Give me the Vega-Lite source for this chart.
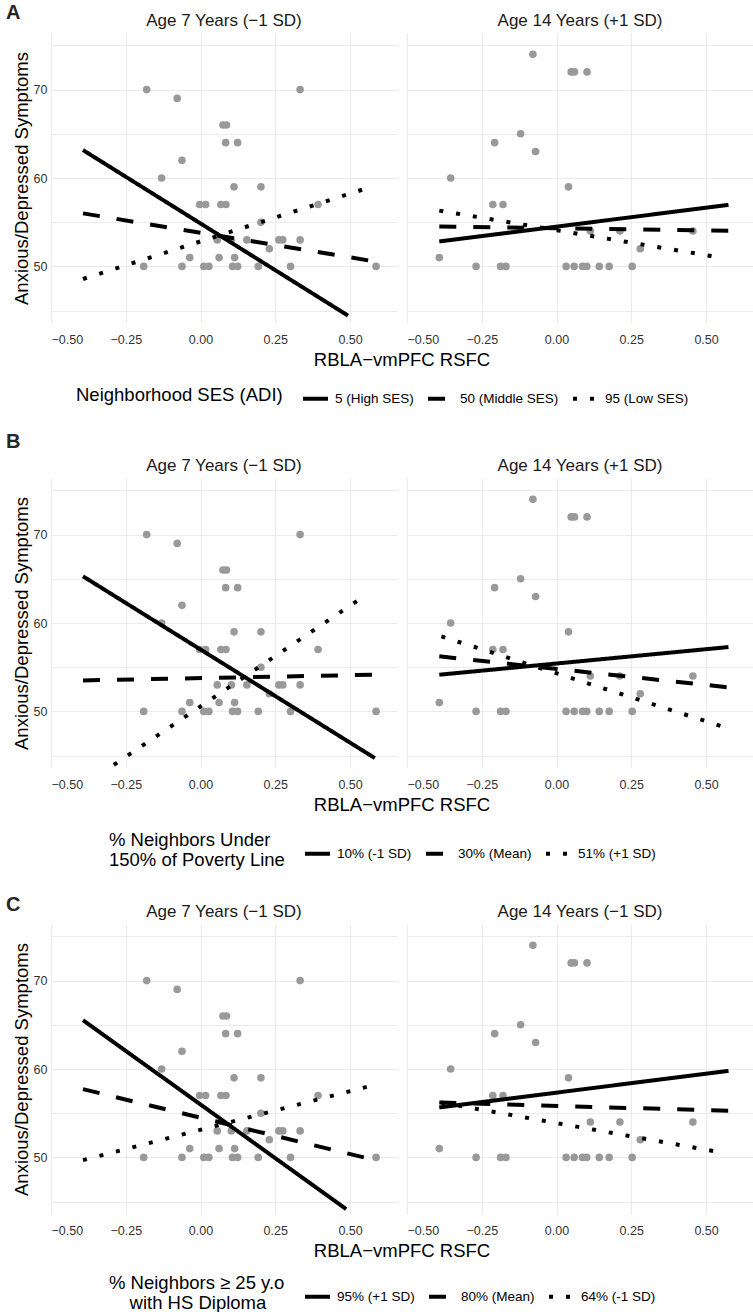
{
  "$schema": "https://vega.github.io/schema/vega-lite/v6.json",
  "padding": {"left": 6, "top": 3, "right": 0, "bottom": 0},
  "background": "white",
  "spacing": 25,
  "resolve": {"scale": {"strokeDash": "independent", "x": "independent", "y": "independent"}, "legend": {"strokeDash": "independent"}},
  "vconcat": [
    {
      "title": {"text": "A", "offset": -11, "dx": -6},
      "data": {"values": [
        {"age":"7","kind":"pt","x":-0.180,"y":70},{"age":"7","kind":"pt","x":0.333,"y":70},{"age":"7","kind":"pt","x":-0.078,"y":69},{"age":"7","kind":"pt","x":0.075,"y":66},{"age":"7","kind":"pt","x":0.087,"y":66},{"age":"7","kind":"pt","x":0.084,"y":64},{"age":"7","kind":"pt","x":0.124,"y":64},{"age":"7","kind":"pt","x":-0.062,"y":62},{"age":"7","kind":"pt","x":-0.130,"y":60},{"age":"7","kind":"pt","x":0.112,"y":59},{"age":"7","kind":"pt","x":0.202,"y":59},{"age":"7","kind":"pt","x":-0.003,"y":57},{"age":"7","kind":"pt","x":0.017,"y":57},{"age":"7","kind":"pt","x":0.068,"y":57},{"age":"7","kind":"pt","x":0.085,"y":57},{"age":"7","kind":"pt","x":0.393,"y":57},{"age":"7","kind":"pt","x":0.202,"y":55},{"age":"7","kind":"pt","x":0.056,"y":53},{"age":"7","kind":"pt","x":0.103,"y":53},{"age":"7","kind":"pt","x":0.155,"y":53},{"age":"7","kind":"pt","x":0.262,"y":53},{"age":"7","kind":"pt","x":0.275,"y":53},{"age":"7","kind":"pt","x":0.333,"y":53},{"age":"7","kind":"pt","x":0.230,"y":52},{"age":"7","kind":"pt","x":-0.036,"y":51},{"age":"7","kind":"pt","x":0.062,"y":51},{"age":"7","kind":"pt","x":0.114,"y":51},{"age":"7","kind":"pt","x":-0.190,"y":50},{"age":"7","kind":"pt","x":-0.062,"y":50},{"age":"7","kind":"pt","x":0.011,"y":50},{"age":"7","kind":"pt","x":0.028,"y":50},{"age":"7","kind":"pt","x":0.107,"y":50},{"age":"7","kind":"pt","x":0.124,"y":50},{"age":"7","kind":"pt","x":0.193,"y":50},{"age":"7","kind":"pt","x":0.301,"y":50},{"age":"7","kind":"pt","x":0.587,"y":50},
        {"age":"14","kind":"pt","x":-0.079,"y":74},{"age":"14","kind":"pt","x":0.049,"y":72},{"age":"14","kind":"pt","x":0.060,"y":72},{"age":"14","kind":"pt","x":0.102,"y":72},{"age":"14","kind":"pt","x":-0.120,"y":65},{"age":"14","kind":"pt","x":-0.207,"y":64},{"age":"14","kind":"pt","x":-0.070,"y":63},{"age":"14","kind":"pt","x":-0.354,"y":60},{"age":"14","kind":"pt","x":0.040,"y":59},{"age":"14","kind":"pt","x":-0.213,"y":57},{"age":"14","kind":"pt","x":-0.179,"y":57},{"age":"14","kind":"pt","x":0.113,"y":54},{"age":"14","kind":"pt","x":0.212,"y":54},{"age":"14","kind":"pt","x":0.456,"y":54},{"age":"14","kind":"pt","x":0.280,"y":52},{"age":"14","kind":"pt","x":-0.392,"y":51},{"age":"14","kind":"pt","x":-0.269,"y":50},{"age":"14","kind":"pt","x":-0.187,"y":50},{"age":"14","kind":"pt","x":-0.169,"y":50},{"age":"14","kind":"pt","x":0.032,"y":50},{"age":"14","kind":"pt","x":0.059,"y":50},{"age":"14","kind":"pt","x":0.087,"y":50},{"age":"14","kind":"pt","x":0.101,"y":50},{"age":"14","kind":"pt","x":0.143,"y":50},{"age":"14","kind":"pt","x":0.176,"y":50},{"age":"14","kind":"pt","x":0.253,"y":50},
        {"age":"7","kind":"ln","level":"5 (High SES)","x":-0.393,"y":63.16},{"age":"7","kind":"ln","level":"5 (High SES)","x":0.493,"y":44.44},
        {"age":"7","kind":"ln","level":"50 (Middle SES)","x":-0.393,"y":56.0},{"age":"7","kind":"ln","level":"50 (Middle SES)","x":0.583,"y":50.56},
        {"age":"7","kind":"ln","level":"95 (Low SES)","x":-0.393,"y":48.58},{"age":"7","kind":"ln","level":"95 (Low SES)","x":0.571,"y":59.0},
        {"age":"14","kind":"ln","level":"5 (High SES)","x":-0.392,"y":52.82},{"age":"14","kind":"ln","level":"5 (High SES)","x":0.575,"y":56.96},
        {"age":"14","kind":"ln","level":"50 (Middle SES)","x":-0.392,"y":54.51},{"age":"14","kind":"ln","level":"50 (Middle SES)","x":0.575,"y":54.02},
        {"age":"14","kind":"ln","level":"95 (Low SES)","x":-0.392,"y":56.31},{"age":"14","kind":"ln","level":"95 (Low SES)","x":0.538,"y":51.06}
      ]},
      "facet": {"column": {"field": "age", "type": "nominal", "sort": ["7", "14"], "header": {"title": "RBLA−vmPFC RSFC", "titleOrient": "bottom", "labelOrient": "top", "labelExpr": "datum.value == '7' ? 'Age 7 Years (−1 SD)' : 'Age 14 Years (+1 SD)'"}}},
      "spacing": 10,
      "spec": {
        "width": 346, "height": 290,
        "layer": [
          {"transform": [{"filter": "datum.kind === 'pt'"}], "mark": {"type": "circle", "size": 58, "color": "#999999", "opacity": 1}, "encoding": {
            "x": {"field": "x", "type": "quantitative", "scale": {"domain": [-0.5, 0.657], "nice": false, "zero": false}, "axis": {"title": null, "values": [-0.5,-0.375,-0.25,-0.125,0,0.125,0.25,0.375,0.5,0.625], "labelExpr": "abs(datum.value*4 - round(datum.value*4)) < 0.01 ? format(datum.value, '.2f') : ''"}},
            "y": {"field": "y", "type": "quantitative", "scale": {"domain": [43.6, 76.4], "nice": false, "zero": false}, "axis": {"title": "Anxious/Depressed Symptoms", "values": [45,50,55,60,65,70,75], "labelExpr": "datum.value % 10 === 0 ? datum.label : ''"}}
          }},
          {"transform": [{"filter": "datum.kind === 'ln'"}], "mark": {"type": "line", "color": "black", "strokeWidth": 4, "clip": true}, "encoding": {
            "x": {"field": "x", "type": "quantitative"},
            "y": {"field": "y", "type": "quantitative"},
            "strokeDash": {"field": "level", "type": "nominal", "scale": {"domain": ["5 (High SES)", "50 (Middle SES)", "95 (Low SES)"], "range": [[1, 0], [17, 17], [4, 13]]}, "legend": {"title": "Neighborhood SES (ADI)", "offset": 14, "encode": {"symbols": {"update": {"strokeDash": {"signal": "datum.index === 1 ? [12, 4] : datum.index === 2 ? [4, 7, 4, 30] : [1, 0]"}}}}}}
          }}
        ]
      }
    },
    {
      "title": {"text": "B", "offset": 5, "dx": -6},
      "data": {"values": [
        {"age":"7","kind":"pt","x":-0.180,"y":70},{"age":"7","kind":"pt","x":0.333,"y":70},{"age":"7","kind":"pt","x":-0.078,"y":69},{"age":"7","kind":"pt","x":0.075,"y":66},{"age":"7","kind":"pt","x":0.087,"y":66},{"age":"7","kind":"pt","x":0.084,"y":64},{"age":"7","kind":"pt","x":0.124,"y":64},{"age":"7","kind":"pt","x":-0.062,"y":62},{"age":"7","kind":"pt","x":-0.130,"y":60},{"age":"7","kind":"pt","x":0.112,"y":59},{"age":"7","kind":"pt","x":0.202,"y":59},{"age":"7","kind":"pt","x":-0.003,"y":57},{"age":"7","kind":"pt","x":0.017,"y":57},{"age":"7","kind":"pt","x":0.068,"y":57},{"age":"7","kind":"pt","x":0.085,"y":57},{"age":"7","kind":"pt","x":0.393,"y":57},{"age":"7","kind":"pt","x":0.202,"y":55},{"age":"7","kind":"pt","x":0.056,"y":53},{"age":"7","kind":"pt","x":0.103,"y":53},{"age":"7","kind":"pt","x":0.155,"y":53},{"age":"7","kind":"pt","x":0.262,"y":53},{"age":"7","kind":"pt","x":0.275,"y":53},{"age":"7","kind":"pt","x":0.333,"y":53},{"age":"7","kind":"pt","x":0.230,"y":52},{"age":"7","kind":"pt","x":-0.036,"y":51},{"age":"7","kind":"pt","x":0.062,"y":51},{"age":"7","kind":"pt","x":0.114,"y":51},{"age":"7","kind":"pt","x":-0.190,"y":50},{"age":"7","kind":"pt","x":-0.062,"y":50},{"age":"7","kind":"pt","x":0.011,"y":50},{"age":"7","kind":"pt","x":0.028,"y":50},{"age":"7","kind":"pt","x":0.107,"y":50},{"age":"7","kind":"pt","x":0.124,"y":50},{"age":"7","kind":"pt","x":0.193,"y":50},{"age":"7","kind":"pt","x":0.301,"y":50},{"age":"7","kind":"pt","x":0.587,"y":50},
        {"age":"14","kind":"pt","x":-0.079,"y":74},{"age":"14","kind":"pt","x":0.049,"y":72},{"age":"14","kind":"pt","x":0.060,"y":72},{"age":"14","kind":"pt","x":0.102,"y":72},{"age":"14","kind":"pt","x":-0.120,"y":65},{"age":"14","kind":"pt","x":-0.207,"y":64},{"age":"14","kind":"pt","x":-0.070,"y":63},{"age":"14","kind":"pt","x":-0.354,"y":60},{"age":"14","kind":"pt","x":0.040,"y":59},{"age":"14","kind":"pt","x":-0.213,"y":57},{"age":"14","kind":"pt","x":-0.179,"y":57},{"age":"14","kind":"pt","x":0.113,"y":54},{"age":"14","kind":"pt","x":0.212,"y":54},{"age":"14","kind":"pt","x":0.456,"y":54},{"age":"14","kind":"pt","x":0.280,"y":52},{"age":"14","kind":"pt","x":-0.392,"y":51},{"age":"14","kind":"pt","x":-0.269,"y":50},{"age":"14","kind":"pt","x":-0.187,"y":50},{"age":"14","kind":"pt","x":-0.169,"y":50},{"age":"14","kind":"pt","x":0.032,"y":50},{"age":"14","kind":"pt","x":0.059,"y":50},{"age":"14","kind":"pt","x":0.087,"y":50},{"age":"14","kind":"pt","x":0.101,"y":50},{"age":"14","kind":"pt","x":0.143,"y":50},{"age":"14","kind":"pt","x":0.176,"y":50},{"age":"14","kind":"pt","x":0.253,"y":50},
        {"age":"7","kind":"ln","level":"10% (-1 SD)","x":-0.393,"y":65.28},{"age":"7","kind":"ln","level":"10% (-1 SD)","x":0.583,"y":44.72},
        {"age":"7","kind":"ln","level":"30% (Mean)","x":-0.393,"y":53.51},{"age":"7","kind":"ln","level":"30% (Mean)","x":0.583,"y":54.15},
        {"age":"7","kind":"ln","level":"51% (+1 SD)","x":-0.29,"y":43.96},{"age":"7","kind":"ln","level":"51% (+1 SD)","x":0.543,"y":62.94},
        {"age":"14","kind":"ln","level":"10% (-1 SD)","x":-0.392,"y":54.15},{"age":"14","kind":"ln","level":"10% (-1 SD)","x":0.575,"y":57.28},
        {"age":"14","kind":"ln","level":"30% (Mean)","x":-0.392,"y":56.23},{"age":"14","kind":"ln","level":"30% (Mean)","x":0.575,"y":52.72},
        {"age":"14","kind":"ln","level":"51% (+1 SD)","x":-0.385,"y":58.49},{"age":"14","kind":"ln","level":"51% (+1 SD)","x":0.564,"y":48.19}
      ]},
      "facet": {"column": {"field": "age", "type": "nominal", "sort": ["7", "14"], "header": {"title": "RBLA−vmPFC RSFC", "titleOrient": "bottom", "labelOrient": "top", "labelExpr": "datum.value == '7' ? 'Age 7 Years (−1 SD)' : 'Age 14 Years (+1 SD)'"}}},
      "spacing": 10,
      "spec": {
        "width": 346, "height": 290,
        "layer": [
          {"transform": [{"filter": "datum.kind === 'pt'"}], "mark": {"type": "circle", "size": 58, "color": "#999999", "opacity": 1}, "encoding": {
            "x": {"field": "x", "type": "quantitative", "scale": {"domain": [-0.5, 0.657], "nice": false, "zero": false}, "axis": {"title": null, "values": [-0.5,-0.375,-0.25,-0.125,0,0.125,0.25,0.375,0.5,0.625], "labelExpr": "abs(datum.value*4 - round(datum.value*4)) < 0.01 ? format(datum.value, '.2f') : ''"}},
            "y": {"field": "y", "type": "quantitative", "scale": {"domain": [43.6, 76.4], "nice": false, "zero": false}, "axis": {"title": "Anxious/Depressed Symptoms", "values": [45,50,55,60,65,70,75], "labelExpr": "datum.value % 10 === 0 ? datum.label : ''"}}
          }},
          {"transform": [{"filter": "datum.kind === 'ln'"}], "mark": {"type": "line", "color": "black", "strokeWidth": 4, "clip": true}, "encoding": {
            "x": {"field": "x", "type": "quantitative"},
            "y": {"field": "y", "type": "quantitative"},
            "strokeDash": {"field": "level", "type": "nominal", "scale": {"domain": ["10% (-1 SD)", "30% (Mean)", "51% (+1 SD)"], "range": [[1, 0], [17, 17], [4, 13]]}, "legend": {"title": ["% Neighbors Under", "150% of Poverty Line"], "offset": 24, "encode": {"symbols": {"update": {"strokeDash": {"signal": "datum.index === 1 ? [12, 4] : datum.index === 2 ? [4, 7, 4, 30] : [1, 0]"}}}}}}
          }}
        ]
      }
    },
    {
      "title": {"text": "C", "offset": -12, "dx": -6},
      "data": {"values": [
        {"age":"7","kind":"pt","x":-0.180,"y":70},{"age":"7","kind":"pt","x":0.333,"y":70},{"age":"7","kind":"pt","x":-0.078,"y":69},{"age":"7","kind":"pt","x":0.075,"y":66},{"age":"7","kind":"pt","x":0.087,"y":66},{"age":"7","kind":"pt","x":0.084,"y":64},{"age":"7","kind":"pt","x":0.124,"y":64},{"age":"7","kind":"pt","x":-0.062,"y":62},{"age":"7","kind":"pt","x":-0.130,"y":60},{"age":"7","kind":"pt","x":0.112,"y":59},{"age":"7","kind":"pt","x":0.202,"y":59},{"age":"7","kind":"pt","x":-0.003,"y":57},{"age":"7","kind":"pt","x":0.017,"y":57},{"age":"7","kind":"pt","x":0.068,"y":57},{"age":"7","kind":"pt","x":0.085,"y":57},{"age":"7","kind":"pt","x":0.393,"y":57},{"age":"7","kind":"pt","x":0.202,"y":55},{"age":"7","kind":"pt","x":0.056,"y":53},{"age":"7","kind":"pt","x":0.103,"y":53},{"age":"7","kind":"pt","x":0.155,"y":53},{"age":"7","kind":"pt","x":0.262,"y":53},{"age":"7","kind":"pt","x":0.275,"y":53},{"age":"7","kind":"pt","x":0.333,"y":53},{"age":"7","kind":"pt","x":0.230,"y":52},{"age":"7","kind":"pt","x":-0.036,"y":51},{"age":"7","kind":"pt","x":0.062,"y":51},{"age":"7","kind":"pt","x":0.114,"y":51},{"age":"7","kind":"pt","x":-0.190,"y":50},{"age":"7","kind":"pt","x":-0.062,"y":50},{"age":"7","kind":"pt","x":0.011,"y":50},{"age":"7","kind":"pt","x":0.028,"y":50},{"age":"7","kind":"pt","x":0.107,"y":50},{"age":"7","kind":"pt","x":0.124,"y":50},{"age":"7","kind":"pt","x":0.193,"y":50},{"age":"7","kind":"pt","x":0.301,"y":50},{"age":"7","kind":"pt","x":0.587,"y":50},
        {"age":"14","kind":"pt","x":-0.079,"y":74},{"age":"14","kind":"pt","x":0.049,"y":72},{"age":"14","kind":"pt","x":0.060,"y":72},{"age":"14","kind":"pt","x":0.102,"y":72},{"age":"14","kind":"pt","x":-0.120,"y":65},{"age":"14","kind":"pt","x":-0.207,"y":64},{"age":"14","kind":"pt","x":-0.070,"y":63},{"age":"14","kind":"pt","x":-0.354,"y":60},{"age":"14","kind":"pt","x":0.040,"y":59},{"age":"14","kind":"pt","x":-0.213,"y":57},{"age":"14","kind":"pt","x":-0.179,"y":57},{"age":"14","kind":"pt","x":0.113,"y":54},{"age":"14","kind":"pt","x":0.212,"y":54},{"age":"14","kind":"pt","x":0.456,"y":54},{"age":"14","kind":"pt","x":0.280,"y":52},{"age":"14","kind":"pt","x":-0.392,"y":51},{"age":"14","kind":"pt","x":-0.269,"y":50},{"age":"14","kind":"pt","x":-0.187,"y":50},{"age":"14","kind":"pt","x":-0.169,"y":50},{"age":"14","kind":"pt","x":0.032,"y":50},{"age":"14","kind":"pt","x":0.059,"y":50},{"age":"14","kind":"pt","x":0.087,"y":50},{"age":"14","kind":"pt","x":0.101,"y":50},{"age":"14","kind":"pt","x":0.143,"y":50},{"age":"14","kind":"pt","x":0.176,"y":50},{"age":"14","kind":"pt","x":0.253,"y":50},
        {"age":"7","kind":"ln","level":"95% (+1 SD)","x":-0.393,"y":65.52},{"age":"7","kind":"ln","level":"95% (+1 SD)","x":0.487,"y":44.16},
        {"age":"7","kind":"ln","level":"80% (Mean)","x":-0.393,"y":57.72},{"age":"7","kind":"ln","level":"80% (Mean)","x":0.583,"y":49.7},
        {"age":"7","kind":"ln","level":"64% (-1 SD)","x":-0.393,"y":49.7},{"age":"7","kind":"ln","level":"64% (-1 SD)","x":0.583,"y":58.21},
        {"age":"14","kind":"ln","level":"95% (+1 SD)","x":-0.392,"y":55.65},{"age":"14","kind":"ln","level":"95% (+1 SD)","x":0.575,"y":59.79},
        {"age":"14","kind":"ln","level":"80% (Mean)","x":-0.392,"y":56.21},{"age":"14","kind":"ln","level":"80% (Mean)","x":0.575,"y":55.27},
        {"age":"14","kind":"ln","level":"64% (-1 SD)","x":-0.385,"y":56.21},{"age":"14","kind":"ln","level":"64% (-1 SD)","x":0.538,"y":50.64}
      ]},
      "facet": {"column": {"field": "age", "type": "nominal", "sort": ["7", "14"], "header": {"title": "RBLA−vmPFC RSFC", "titleOrient": "bottom", "labelOrient": "top", "labelExpr": "datum.value == '7' ? 'Age 7 Years (−1 SD)' : 'Age 14 Years (−1 SD)'"}}},
      "spacing": 10,
      "spec": {
        "width": 346, "height": 290,
        "layer": [
          {"transform": [{"filter": "datum.kind === 'pt'"}], "mark": {"type": "circle", "size": 58, "color": "#999999", "opacity": 1}, "encoding": {
            "x": {"field": "x", "type": "quantitative", "scale": {"domain": [-0.5, 0.657], "nice": false, "zero": false}, "axis": {"title": null, "values": [-0.5,-0.375,-0.25,-0.125,0,0.125,0.25,0.375,0.5,0.625], "labelExpr": "abs(datum.value*4 - round(datum.value*4)) < 0.01 ? format(datum.value, '.2f') : ''"}},
            "y": {"field": "y", "type": "quantitative", "scale": {"domain": [43.6, 76.4], "nice": false, "zero": false}, "axis": {"title": "Anxious/Depressed Symptoms", "values": [45,50,55,60,65,70,75], "labelExpr": "datum.value % 10 === 0 ? datum.label : ''"}}
          }},
          {"transform": [{"filter": "datum.kind === 'ln'"}], "mark": {"type": "line", "color": "black", "strokeWidth": 4, "clip": true}, "encoding": {
            "x": {"field": "x", "type": "quantitative"},
            "y": {"field": "y", "type": "quantitative"},
            "strokeDash": {"field": "level", "type": "nominal", "scale": {"domain": ["95% (+1 SD)", "80% (Mean)", "64% (-1 SD)"], "range": [[1, 0], [17, 17], [4, 13]]}, "legend": {"title": ["% Neighbors ≥ 25 y.o", "\u200b\u00a0\u00a0\u00a0\u00a0with HS Diploma"], "offset": 21, "encode": {"symbols": {"update": {"strokeDash": {"signal": "datum.index === 1 ? [12, 4] : datum.index === 2 ? [4, 7, 4, 30] : [1, 0]"}}}}}}
          }}
        ]
      }
    }
  ],
  "config": {
    "font": "Liberation Sans",
    "view": {"stroke": null},
    "title": {"anchor": "start", "fontSize": 20, "fontWeight": "bold", "color": "#262626", "frame": "bounds"},
    "axis": {"gridColor": "#ebebeb", "gridWidth": 1.1, "domain": false, "ticks": false, "tickSize": 0, "labelFontSize": 12.5, "labelColor": "#333333", "titleFontSize": 18.5, "titleFontWeight": "normal", "titleColor": "#000000", "labelPadding": 4},
    "axisX": {"labelPadding": 10.5},
    "axisY": {"titlePadding": 2},
    "header": {"labelFontSize": 17, "labelColor": "#1a1a1a", "titleFontSize": 18.5, "titleFontWeight": "normal", "titleColor": "#000000", "labelPadding": 3, "titlePadding": -5},
    "legend": {"orient": "bottom", "direction": "horizontal", "titleOrient": "left", "titleFontSize": 18.5, "titleFontWeight": "normal", "titleColor": "#000000", "titleLineHeight": 20, "labelFontSize": 13.5, "labelColor": "#000000", "symbolType": "stroke", "symbolSize": 625, "symbolStrokeWidth": 4, "symbolStrokeColor": "#000000", "columnPadding": 6, "titlePadding": 18, "labelOffset": 5, "titleLimit": 400, "labelLimit": 300, "layout": {"bottom": {"anchor": "middle"}}}
  }
}
